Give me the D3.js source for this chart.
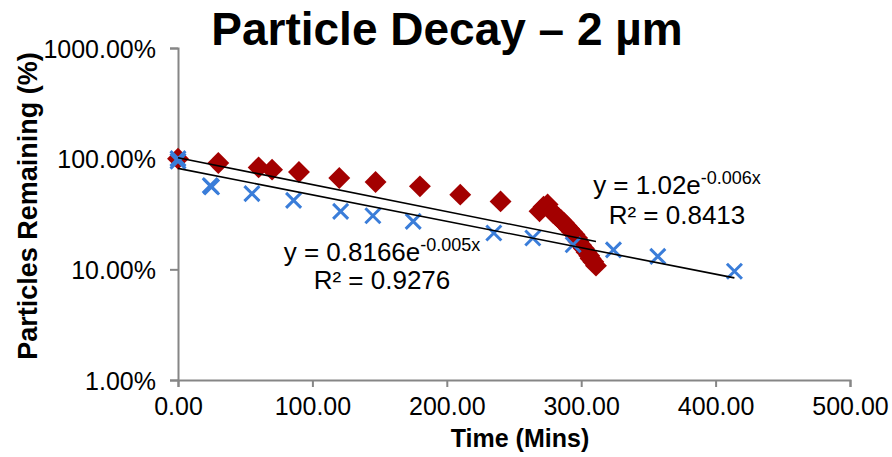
<!DOCTYPE html>
<html>
<head>
<meta charset="utf-8">
<script src="https://cdn.jsdelivr.net/npm/d3@7"></script>
<style>
  body { margin: 0; background: #fff; }
  text { font-family: "Liberation Sans", Arial, sans-serif; fill: #000; }
</style>
</head>
<body>
<div id="chart"></div>
<script>
// time (mins) and % remaining
const redTime = [0, 30, 60, 70, 90, 120, 147, 180, 210, 240, 269, 272, 275,
  279, 281, 283, 285, 287, 289, 291, 293, 295, 297, 298, 300, 302, 304, 306, 307, 309, 311];
const redValue = [100, 91.4, 83.4, 79.6, 75.8, 66.9, 61.6, 56.2, 47.3, 41.1, 33.5, 36.8, 38.5,
  32.5, 30.8, 29.3, 27.8, 26.4, 24.8, 23.3, 21.9, 20.6, 19.2, 17.8, 16.5, 15.4, 14.3, 13.3, 12.5, 11.7, 10.8];

const blueTime = [0, 0, 24, 25, 55, 86, 121, 145, 175, 235, 264, 294, 324, 357, 414];
const blueValue = [100, 95, 57, 55.5, 48.3, 42, 33.4, 30.5, 27.1, 21.3, 19.2, 16.7, 15, 13.1, 9.6];

// exponential trend lines (y = a * e^(-k x)), as drawn
const trendNames = ["red", "blue"];
const trendA = [1.02, 0.8166];
const trendK = [0.0056, 0.0055];
const trendEnd = [311, 414];
const trendMain = ["y = 1.02e", "y = 0.8166e"];
const trendExp = ["-0.006x", "-0.005x"];
const trendR2 = ["R² = 0.8413", "R² = 0.9276"];

const xTicks = [0, 100, 200, 300, 400, 500];
const yTicks = [1, 10, 100, 1000];

const width = 892;
const height = 457;
const margin = { top: 48, right: 42, bottom: 77, left: 178 };

const svg = d3.select("#chart").append("svg")
  .attr("width", width)
  .attr("height", height);

const x = d3.scaleLinear()
  .domain([0, 500])
  .range([margin.left, width - margin.right]);

const y = d3.scaleLog()
  .domain([1, 1000])
  .range([height - margin.bottom, margin.top]);

const axisColor = "#868686";

// axes
const xAxis = svg.append("g")
  .attr("transform", `translate(0, ${height - margin.bottom})`)
  .call(d3.axisBottom(x).tickValues(xTicks).tickSize(7).tickPadding(10)
    .tickFormat(d => d3.format(".2f")(d)));

const yAxis = svg.append("g")
  .attr("transform", `translate(${margin.left}, 0)`)
  .call(d3.axisLeft(y).tickValues(yTicks).tickSize(8).tickPadding(14)
    .tickFormat(d => d3.format(".2f")(d) + "%"));

[xAxis, yAxis].forEach(a => {
  a.select(".domain").attr("stroke", axisColor).attr("stroke-width", 2);
  a.selectAll(".tick line").attr("stroke", axisColor).attr("stroke-width", 2);
  a.selectAll(".tick text")
    .style("font-size", "25px")
    .style("font-family", "'Liberation Sans', Arial, sans-serif")
    .attr("fill", "#000");
});
yAxis.selectAll(".tick text").attr("dy", "0.36em");
xAxis.selectAll(".tick text").attr("dy", "0.71em");

// red diamonds
const diamond = d3.symbol().type(d3.symbolSquare).size(240);
svg.append("g")
  .selectAll("path")
  .data(redTime.map((t, i) => ({ t, v: redValue[i] })))
  .join("path")
  .attr("d", diamond)
  .attr("transform", d => `translate(${x(d.t)}, ${y(d.v)}) rotate(45)`)
  .attr("fill", "#A30000");

// blue crosses
const cross = svg.append("g")
  .selectAll("g")
  .data(blueTime.map((t, i) => ({ t, v: blueValue[i] })))
  .join("g")
  .attr("transform", d => `translate(${x(d.t)}, ${y(d.v)})`);
cross.append("path")
  .attr("d", "M-7.5,-7.5L7.5,7.5M-7.5,7.5L7.5,-7.5")
  .attr("stroke", "#3A7DD9")
  .attr("stroke-width", 3)
  .attr("fill", "none");

// trend lines
const line = d3.line().x(d => x(d[0])).y(d => y(d[1]));
trendNames.forEach((n, i) => {
  const f = t => 100 * trendA[i] * Math.exp(-trendK[i] * t);
  svg.append("path")
    .attr("d", line([[0, f(0)], [trendEnd[i], f(trendEnd[i])]]))
    .attr("stroke", "#000")
    .attr("stroke-width", 1.6)
    .attr("fill", "none");
});

// trend equation labels
const labelPos = [[677, 194], [382, 261]];
trendNames.forEach((n, i) => {
  const t = svg.append("text")
    .attr("x", labelPos[i][0])
    .attr("y", labelPos[i][1])
    .attr("text-anchor", "middle")
    .style("font-size", "26px");
  t.append("tspan").text(trendMain[i]);
  t.append("tspan").attr("dy", -10).style("font-size", "18px").text(trendExp[i]);
  svg.append("text")
    .attr("x", labelPos[i][0])
    .attr("y", labelPos[i][1] + (i === 0 ? 30 : 28))
    .attr("text-anchor", "middle")
    .style("font-size", "26px")
    .text(trendR2[i]);
});

// titles
svg.append("text")
  .attr("x", 447)
  .attr("y", 45)
  .attr("text-anchor", "middle")
  .style("font-size", "46px")
  .style("font-weight", "bold")
  .text("Particle Decay – 2 µm");

svg.append("text")
  .attr("x", 520)
  .attr("y", 447)
  .attr("text-anchor", "middle")
  .style("font-size", "25px")
  .style("font-weight", "bold")
  .text("Time (Mins)");

svg.append("text")
  .attr("transform", "rotate(-90)")
  .attr("x", -206)
  .attr("y", 37)
  .attr("text-anchor", "middle")
  .style("font-size", "27px")
  .style("font-weight", "bold")
  .text("Particles Remaining (%)");
</script>
</body>
</html>
